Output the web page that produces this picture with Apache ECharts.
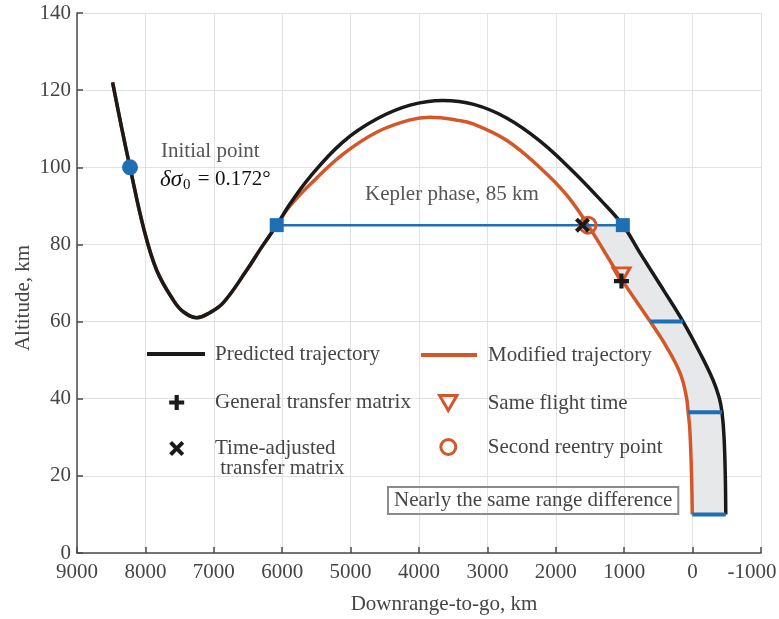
<!DOCTYPE html>
<html><head><meta charset="utf-8">
<script src="https://cdn.jsdelivr.net/npm/echarts@6/dist/echarts.min.js"></script>
<style>html,body{margin:0;padding:0;background:#fff}#c{width:779px;height:619px}</style>
</head><body><div id="c"></div>
<script>
// ---- data ----
const xTicks = [9000, 8000, 7000, 6000, 5000, 4000, 3000, 2000, 1000, 0, -1000];
const yTicks = [0, 20, 40, 60, 80, 100, 120, 140];

const predicted = [[8480,122],[8350,110.5],[8225,100],[8030,84.5],[7835,73.3],[7590,65.5],[7450,62.6],[7250,61],[7060,62.3],[6860,64.9],[6520,73.3],[6300,79.3],[6080,85],[5890,90.4],[5590,97.6],[5110,106.6],[4620,112.5],[4130,116.1],[3650,117.3],[3200,116.3],[2720,112.8],[2230,106.8],[1740,98.8],[1350,91.6],[1020,85],[770,77.8],[430,68.3],[140,60],[-110,51.8],[-300,44.8],[-390,40.2],[-430,36.5],[-460,30],[-478,20],[-485,10]];
const modified = [[8480,122],[8350,110.5],[8225,100],[8030,84.5],[7835,73.3],[7590,65.5],[7450,62.6],[7250,61],[7060,62.3],[6860,64.9],[6520,73.3],[6300,79.3],[6080,85],[5890,89.9],[5590,95.6],[5110,103.4],[4620,109.1],[4130,112.3],[3840,113],[3400,112.1],[3200,111.2],[2720,107],[2230,99.9],[1840,92.8],[1530,85],[1040,71],[620,60],[380,53.4],[180,46.5],[90,40.4],[65,36.5],[40,31.8],[15,20],[5,10]];
const keplerPhase = [[6080,85],[1020,85]];
const initialPoint = [[8225,100]];
const generalTM = [[1040,70.5]];
const timeAdjustedTM = [[1610,85]];
const sameFlightTime = [[1040,72]];
const secondReentry = [[1530,85]];
const rangeDiff = [[620,140,60],[65,-430,36.5],[5,-485,10]]; // [red x, black x, altitude]

// ---- styling ----
const FONT = '"Liberation Serif", "Times New Roman", serif';
const BLACK = '#1a1a1a', RED = '#d4572a', BLUE = '#1f6fb4', TXT = '#454545';

const fillRed = modified.slice(modified.findIndex(p => p[0] === 1530 && p[1] === 85));
const fillBlack = predicted.slice(predicted.findIndex(p => p[0] === 1020 && p[1] === 85));

const PLUS = 'path://M3.6,0H6.4V3.6H10V6.4H6.4V10H3.6V6.4H0V3.6H3.6Z';
const CROSS = 'path://M1.9,0L5,3.1L8.1,0L10,1.9L6.9,5L10,8.1L8.1,10L5,6.9L1.9,10L0,8.1L3.1,5L0,1.9Z';
const TRI = 'path://M0,0L10,0L5,8.66Z';

function leg(name, left, top, icon, w, h, itemStyle, extra) {
  return Object.assign({
    data: [{name: name, icon: icon}], left: left, top: top, padding: 0,
    itemWidth: w, itemHeight: h, symbolKeepAspect: true, selectedMode: false,
    itemStyle: Object.assign({opacity: 1}, itemStyle),
    textStyle: {fontFamily: FONT, fontSize: 21, lineHeight: 21, color: TXT}
  }, extra || {});
}

const chart = echarts.init(document.getElementById('c'));
chart.setOption({
  animation: false,
  grid: {left: 77, right: 18, top: 13, bottom: 66, containLabel: false, outerBoundsMode: 'none'},
  xAxis: {
    type: 'value', inverse: true, min: -1000, max: 9000, interval: 1000,
    axisLine: {onZero: false, lineStyle: {color: '#4a4a4a', width: 1.5}},
    axisTick: {inside: true, length: 6, lineStyle: {color: '#4a4a4a', width: 1.5}},
    splitLine: {lineStyle: {color: '#e2e2e2', width: 1}},
    axisLabel: {margin: 9, color: TXT, fontFamily: FONT, fontSize: 21,
      formatter: v => { const t = xTicks.find(k => k === v); const s = String(t ?? v);
        return t === -1000 ? '{r|' + s + '}' : s; },
      rich: {r: {fontFamily: FONT, fontSize: 21, color: TXT, padding: [0, 18, 0, 0]}}}
  },
  yAxis: {
    type: 'value', min: 0, max: 140, interval: 20,
    axisLine: {show: true, onZero: false, lineStyle: {color: '#4a4a4a', width: 1.5}},
    axisTick: {show: true, inside: true, length: 6, lineStyle: {color: '#4a4a4a', width: 1.5}},
    splitLine: {lineStyle: {color: '#e2e2e2', width: 1}},
    axisLabel: {margin: 6, color: TXT, fontFamily: FONT, fontSize: 21,
      formatter: v => String(yTicks.find(t => t === v) ?? v)}
  },
  legend: [
    leg('Predicted trajectory', 147, 343.5, 'rect', 58, 4, {color: BLACK, borderWidth: 0},
        {textStyle: {fontFamily: FONT, fontSize: 21, lineHeight: 21, color: TXT, padding: [0,0,0,5]}}),
    leg('Modified trajectory', 421, 344.5, 'rect', 56, 4, {color: RED, borderWidth: 0},
        {textStyle: {fontFamily: FONT, fontSize: 21, lineHeight: 21, color: TXT, padding: [0,0,0,6]}}),
    leg('General transfer matrix', 169.2, 392, PLUS, 66.6, 15, {color: BLACK, borderWidth: 0}),
    leg('Time-adjusted transfer matrix', 169.2, 418, CROSS, 66.6, 15, {color: BLACK, borderWidth: 0},
        {formatter: () => '\nTime-adjusted\n transfer matrix',
         textStyle: {fontFamily: FONT, fontSize: 21, lineHeight: 20, color: TXT}}),
    leg('Same flight time', 438.1, 392.5, TRI, 68.8, 15, {color: 'rgba(0,0,0,0)', borderColor: RED, borderWidth: 3}),
    leg('Second reentry point', 439.3, 436.5, 'circle', 68.8, 15, {color: 'rgba(0,0,0,0)', borderColor: RED, borderWidth: 3})
  ],
  series: [
    {type: 'custom', z: 1, silent: true, data: [[1000, 50]], encode: {x: 0, y: 1},
      renderItem: (params, api) => ({type: 'polygon',
        shape: {points: fillRed.concat(fillBlack.slice().reverse()).map(p => api.coord(p))},
        style: {fill: '#e7e8ea'}})},
    {type: 'custom', z: 4, silent: true, data: rangeDiff, encode: {x: [0, 1], y: 2},
      renderItem: (params, api) => {
        const a = api.coord([api.value(0), api.value(2)]);
        const b = api.coord([api.value(1), api.value(2)]);
        return {type: 'line', shape: {x1: a[0], y1: a[1], x2: b[0], y2: b[1]},
          style: {stroke: BLUE, lineWidth: 4}};
      }},
    {name: 'Modified trajectory', type: 'line', z: 2, data: modified, showSymbol: false, smooth: 0.4,
      lineStyle: {color: RED, width: 3.5}, itemStyle: {color: RED}},
    {name: 'Predicted trajectory', type: 'line', z: 3, data: predicted, showSymbol: false, smooth: 0.4,
      lineStyle: {color: BLACK, width: 3.5}, itemStyle: {color: BLACK}},
    {name: 'Kepler phase', type: 'line', z: 5, data: keplerPhase, symbol: 'rect', symbolSize: 14,
      lineStyle: {color: BLUE, width: 2.5}, itemStyle: {color: BLUE, opacity: 1}},
    {name: 'Initial point', type: 'scatter', z: 5, data: initialPoint, symbol: 'circle', symbolSize: 16,
      itemStyle: {color: BLUE, opacity: 1}},
    {name: 'Time-adjusted transfer matrix', type: 'scatter', z: 7, data: timeAdjustedTM, symbol: CROSS, symbolSize: 15,
      itemStyle: {color: BLACK, opacity: 1}},
    {name: 'Second reentry point', type: 'scatter', z: 6, data: secondReentry, symbol: 'circle', symbolSize: 16,
      itemStyle: {color: 'rgba(0,0,0,0)', borderColor: RED, borderWidth: 3, opacity: 1}},
    {name: 'Same flight time', type: 'scatter', z: 6, data: sameFlightTime, symbol: TRI, symbolSize: [17, 15],
      itemStyle: {color: 'rgba(0,0,0,0)', borderColor: RED, borderWidth: 3, opacity: 1}},
    {name: 'General transfer matrix', type: 'scatter', z: 7, data: generalTM, symbol: PLUS, symbolSize: 15,
      itemStyle: {color: BLACK, opacity: 1}}
  ],
  graphic: [
    {type: 'text', left: 161, top: 141, z: 10, style: {text: 'Initial point', font: '21px ' + FONT, fill: '#555'}},
    {type: 'text', left: 160, top: 166, z: 10, style: {
      text: '{i|δσ}{s|0}{n| = 0.172°}',
      rich: {
        i: {fontFamily: FONT, fontStyle: 'italic', fontSize: 23, fill: '#111', lineHeight: 26},
        s: {fontFamily: FONT, fontSize: 15, fill: '#111', padding: [12, 2, 0, 1], lineHeight: 26},
        n: {fontFamily: FONT, fontSize: 21, fill: '#111', lineHeight: 26}
      }}},
    {type: 'text', left: 365, top: 184, z: 10, style: {text: 'Kepler phase, 85 km', font: '21px ' + FONT, fill: '#555'}},
    {type: 'text', left: 387, top: 486, z: 10, style: {text: 'Nearly the same range difference', font: '21px ' + FONT,
      fill: TXT, padding: [3, 6, 3, 6], borderColor: '#8a8a8a', borderWidth: 1, backgroundColor: 'rgba(255,255,255,0)'}},
    {type: 'text', x: 23, y: 298, rotation: Math.PI / 2, z: 10, style: {text: 'Altitude, km', font: '21px ' + FONT,
      fill: TXT, align: 'center', verticalAlign: 'middle'}},
    {type: 'text', x: 444, y: 604, z: 10, style: {text: 'Downrange-to-go, km', font: '21px ' + FONT,
      fill: TXT, align: 'center', verticalAlign: 'middle'}}
  ]
});
</script></body></html>
